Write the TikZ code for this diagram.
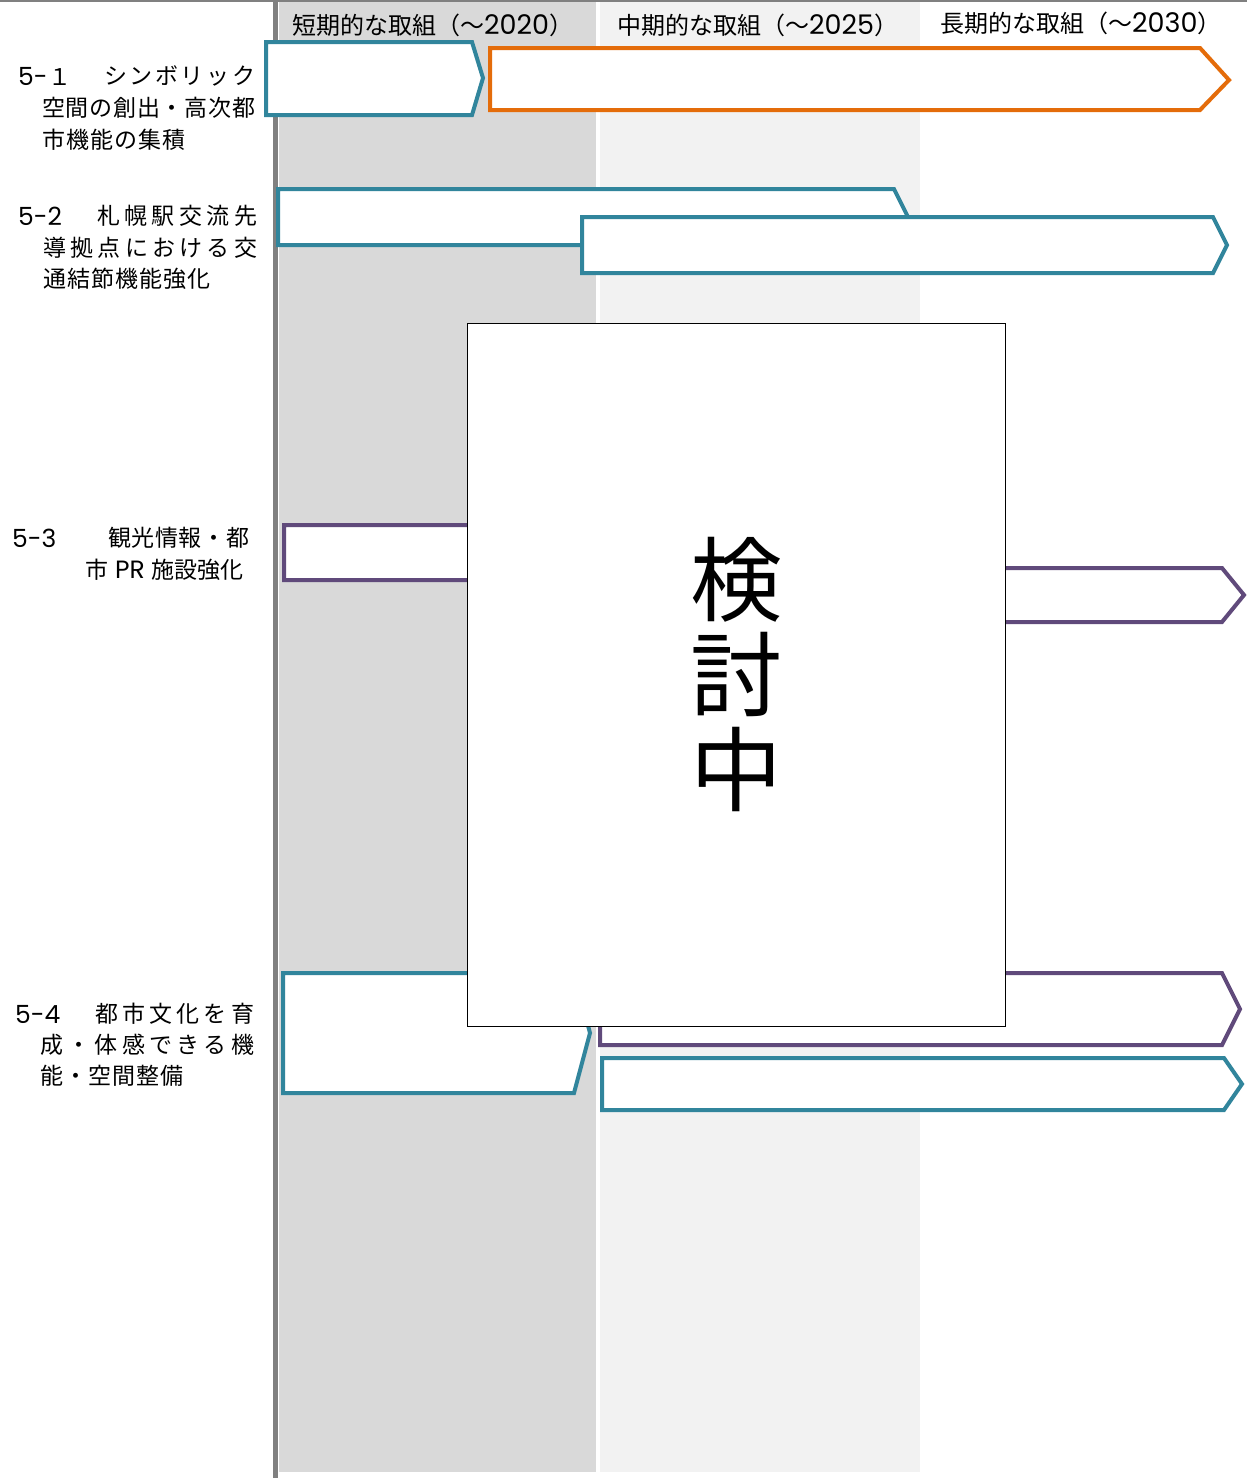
\documentclass[tikz,border=0pt]{standalone}
\usepackage{fontspec}
\setmainfont{Noto Sans CJK JP}
\newfontfamily\digfont{Poppins}
\definecolor{cTeal}{RGB}{49,133,156}
\definecolor{cOrange}{RGB}{228,108,10}
\definecolor{cPurple}{RGB}{96,74,123}
\definecolor{cDark}{RGB}{217,217,217}
\definecolor{cLight}{RGB}{242,242,242}
\definecolor{cBar}{RGB}{128,128,128}
\makeatletter
\newcommand\spreadtext[2]{\makebox[#1][s]{\let\spsep\relax\@tfor\spx:=#2\do{\spsep\spx\let\spsep\hfil}}}
\makeatother
\newcommand\hdig[1]{{\fontsize{27}{24}\selectfont\digfont #1}}
\tikzset{
  lab/.style={anchor=west, inner sep=0pt, font=\fontsize{23}{23}\selectfont},
  num/.style={anchor=west, inner sep=0pt, font=\fontsize{25}{23}\selectfont\digfont},
  hdr/.style={anchor=west, inner sep=0pt, font=\fontsize{24}{24}\selectfont},
  tbar/.style={line width=4pt, fill=white, line join=miter},
}
\begin{document}
\begin{tikzpicture}[x=1pt,y=-1pt]
\useasboundingbox (0,0) rectangle (1247,1483);
% columns
\fill[cDark] (279,2) rectangle (596,1472);
\fill[cLight] (600,2) rectangle (920,1472);
\fill[cBar] (273,0) rectangle (278,1478);
\draw[cBar, line width=2pt] (0,1) -- (1247,1);
% headers
\node[hdr] (h1) at (292,25) {短期的な取組（～\hdig{2020}）};
\node[hdr] (h2) at (617,25) {中期的な取組（～\hdig{2025}）};
\node[hdr] (h3) at (940,23) {長期的な取組（～\hdig{2030}）};
% row 5-1
\node[num] (n1) at (18,76) {5-\hspace{1pt}{\fontsize{23}{23}\selectfont\rmfamily １}};
\node[lab] (t1a) at (104,76) {\spreadtext{151pt}{シンボリック}};
\node[lab] (t1b) at (42,108) {\spreadtext{213pt}{空間の創出・高次都}};
\node[lab] (t1c) at (42,140) {\spreadtext{143pt}{市機能の集積}};
\draw[tbar, draw=cTeal] (266,42) -- (472,42) -- (483,78) -- (472,115) -- (266,115) -- cycle;
\draw[tbar, draw=cOrange] (490,48) -- (1200,48) -- (1229,80) -- (1200,110) -- (490,110) -- cycle;
% row 5-2
\node[num] (n2) at (18,216) {5-2};
\node[lab] (t2a) at (97,216) {\spreadtext{160pt}{札幌駅交流先}};
\node[lab] (t2b) at (43,248) {\spreadtext{214pt}{導拠点における交}};
\node[lab] (t2c) at (43,279) {\spreadtext{167pt}{通結節機能強化}};
\draw[tbar, draw=cTeal] (278,189) -- (894,189) -- (908,217) -- (894,245) -- (278,245) -- cycle;
\draw[tbar, draw=cTeal] (582,217) -- (1213,217) -- (1227,245) -- (1213,273) -- (582,273) -- cycle;
% row 5-3
\node[num] (n3) at (12,538) {5-3};
\node[lab] (t3a) at (108,538) {\spreadtext{141pt}{観光情報・都}};
\node[lab] (t3b) at (85,570) {市\hspace{7pt}{\fontsize{25}{23}\selectfont\digfont PR}\hspace{7pt}施設強化};
\draw[tbar, draw=cPurple] (284,525) -- (700,525) -- (715,552) -- (700,580) -- (284,580) -- cycle;
\draw[tbar, draw=cPurple] (600,568) -- (1222,568) -- (1244,595) -- (1222,622) -- (600,622) -- cycle;
% row 5-4
\node[num] (n4) at (15,1014) {5-4};
\node[lab] (t4a) at (95,1014) {\spreadtext{159pt}{都市文化を育}};
\node[lab] (t4b) at (40,1045) {\spreadtext{214pt}{成・体感できる機}};
\node[lab] (t4c) at (40,1076) {\spreadtext{143pt}{能・空間整備}};
\draw[tbar, draw=cTeal] (283,973) -- (574,973) -- (590,1033) -- (574,1093) -- (283,1093) -- cycle;
\draw[tbar, draw=cPurple] (600,973) -- (1222,973) -- (1240,1009) -- (1222,1045) -- (600,1045) -- cycle;
\draw[tbar, draw=cTeal] (602,1058) -- (1224,1058) -- (1242,1084) -- (1224,1110) -- (602,1110) -- cycle;
% box
\node[draw=black, line width=1pt, fill=white, minimum width=538pt, minimum height=703pt, inner sep=0pt, align=center, font=\fontsize{92}{95}\selectfont] (box) at (736,674.5) {検\\討\\中};
\end{tikzpicture}
\end{document}
